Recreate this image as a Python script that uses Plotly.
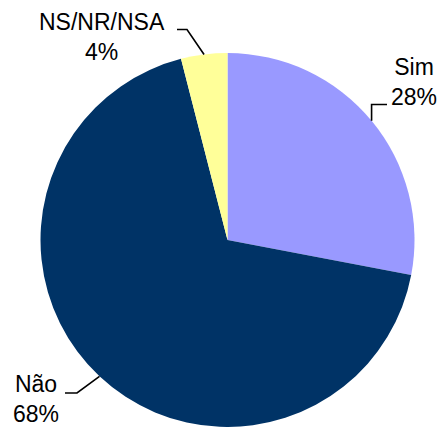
import numpy as np
import plotly.graph_objects as go

# Survey answers and their shares (%)
labels = ["Sim", "Não", "NS/NR/NSA"]
values = [28, 68, 4]
colors = ["#9999FF", "#003366", "#FFFF99"]

W, H = 442, 427
CX, CY, R = 227.5, 240.0, 187.0  # pie centre and radius in pixels

# label block centres (px) and leader-line bends (px); None = reuse the edge coordinate
label_centres = {"Sim": (413.5, 81.5), "Não": (35.5, 399.0), "NS/NR/NSA": (101.5, 37.0)}
leader_bends = {
    "Sim": [(None, 104.5), (387.0, 104.5)],
    "Não": [(77.0, 393.0), (65.0, 393.0)],
    "NS/NR/NSA": [(187.0, 29.5), (177.0, 29.5)],
}


def to_paper(x, y):
    return x / W, 1 - y / H


fig = go.Figure(
    go.Pie(
        labels=labels,
        values=values,
        marker=dict(colors=colors, line=dict(width=0)),
        sort=False,
        direction="clockwise",
        rotation=0,
        textinfo="none",
        textposition="none",
        hoverinfo="label+percent",
        domain=dict(
            x=[(CX - R) / W, (CX + R) / W],
            y=[max(0.0, (H - (CY + R)) / H), (H - (CY - R)) / H],
        ),
    )
)

total = float(sum(values))
ends = np.cumsum(values)
mids = (ends - np.array(values) / 2) / total * 2 * np.pi  # clockwise from 12 o'clock

shapes, annotations = [], []
for lab, val, ang in zip(labels, values, mids):
    ex, ey = CX + R * np.sin(ang), CY - R * np.cos(ang)
    pts = [(ex, ey)]
    for bx, by in leader_bends[lab]:
        pts.append((ex if bx is None else bx, ey if by is None else by))
    path = ""
    for i, (x, y) in enumerate(pts):
        px_, py_ = to_paper(x, y)
        path += ("M" if i == 0 else " L") + f"{px_:.5f},{py_:.5f}"
    shapes.append(dict(type="path", path=path, xref="paper", yref="paper",
                       line=dict(color="black", width=1.6)))
    tx, ty = to_paper(*label_centres[lab])
    annotations.append(dict(
        text=f"{lab}<br>{val}%", x=tx, y=ty, xref="paper", yref="paper",
        xanchor="center", yanchor="middle", showarrow=False, align="center",
        font=dict(family="Arial, Liberation Sans, sans-serif", size=23, color="black"),
    ))

fig.update_layout(
    width=W, height=H,
    margin=dict(l=0, r=0, t=0, b=0),
    paper_bgcolor="white", plot_bgcolor="white",
    showlegend=False,
    shapes=shapes,
    annotations=annotations,
)

fig.write_html("out.html")
